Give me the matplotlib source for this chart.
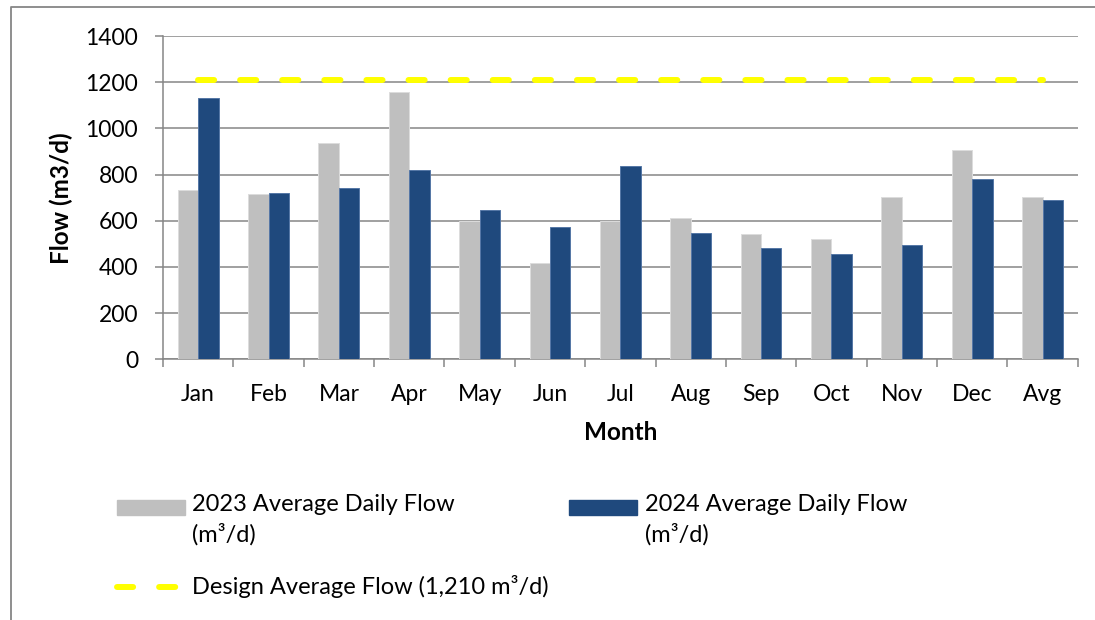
import matplotlib
matplotlib.use('Agg')

import numpy as np
import matplotlib.pyplot as plt
from matplotlib.lines import Line2D
from matplotlib.patches import Rectangle

# ================= DATEN =================
months = ['Jan', 'Feb', 'Mar', 'Apr', 'May', 'Jun', 'Jul',
          'Aug', 'Sep', 'Oct', 'Nov', 'Dec', 'Avg']
flow_2023 = [735, 715, 935, 1160, 600, 417, 599, 610, 543, 520, 703, 907, 703]
flow_2024 = [1131, 722, 742, 820, 645, 575, 837, 548, 480, 454, 497, 783, 688]
design_flow = 1210
y_ticks = [0, 200, 400, 600, 800, 1000, 1200, 1400]

label_2023 = '2023 Average Daily Flow\n(m³/d)'
label_2024 = '2024 Average Daily Flow\n(m³/d)'
label_design = 'Design Average Flow (1,210 m³/d)'

# ================= STIL =================
GRAY = '#BFBFBF'
BLUE = '#1F497D'
YELLOW = '#FFFF00'
AXIS = '#868686'
FONT = 'Lato'
FS_TICK = 16.5
FS_LEG = 17
FS_LAB = 17.5

plt.rcParams['font.family'] = [FONT, 'DejaVu Sans']

W, H = 1095, 620
fig = plt.figure(figsize=(W / 100, H / 100), dpi=100)
ax = fig.add_axes([163 / W, 1 - 359.3 / H, 914.7 / W, 323.2 / H])

x = np.arange(len(months))
bw = 0.29
ax.bar(x - bw / 2, flow_2023, width=bw, color=GRAY, edgecolor='#DCDCDC',
       linewidth=0.7, zorder=3)
ax.bar(x + bw / 2, flow_2024, width=bw, color=BLUE, edgecolor='#5577A6',
       linewidth=0.7, zorder=3)

# Auslegungslinie
dash_style = (0, (2.7, 4.35))
ax.plot([x[0], x[-1]], [design_flow, design_flow], color=YELLOW, lw=4.3,
        linestyle=dash_style, dash_capstyle='round', zorder=4)

# Achsen
ax.set_xlim(-0.5, len(months) - 0.5)
ax.set_ylim(0, 1400)
ax.set_yticks(y_ticks)
ax.set_xticks(x)
ax.set_xticklabels(months)
ax.set_xticks(np.arange(len(months) + 1) - 0.5, minor=True)
ax.tick_params(axis='x', which='major', length=0, pad=18, labelsize=FS_TICK)
ax.tick_params(axis='x', which='minor', length=6, width=1.1, color=AXIS,
               direction='out')
ax.tick_params(axis='y', length=6, width=1.1, color=AXIS, pad=12,
               labelsize=FS_TICK)
ax.grid(axis='y', color=AXIS, linewidth=1.1, zorder=0)
ax.set_axisbelow(True)
for s in ['top', 'right']:
    ax.spines[s].set_visible(False)
for s in ['left', 'bottom']:
    ax.spines[s].set_color(AXIS)
    ax.spines[s].set_linewidth(1.1)

ax.set_ylabel('Flow (m3/d)', fontsize=FS_LAB, fontweight='bold')
ax.yaxis.set_label_coords(-0.098, 0.5)
ax.set_xlabel('Month', fontsize=FS_LAB, fontweight='bold')
ax.xaxis.set_label_coords(0.5, -0.19)


# ================= LEGENDE (manuell) =================
def fx(px):
    return px / W


def fy(py):
    return 1 - py / H


fig.patches.append(Rectangle((fx(117), fy(515)), fx(68), 15 / H,
                             transform=fig.transFigure, color=GRAY))
fig.text(fx(192), fy(494), label_2023, fontsize=FS_LEG, va='top',
         linespacing=1.45)
fig.patches.append(Rectangle((fx(569), fy(515)), fx(68), 15 / H,
                             transform=fig.transFigure, color=BLUE))
fig.text(fx(645), fy(494), label_2024, fontsize=FS_LEG, va='top',
         linespacing=1.45)
fig.lines.append(Line2D([fx(117), fx(183)], [fy(587), fy(587)],
                        transform=fig.transFigure, color=YELLOW, lw=4.3,
                        linestyle=dash_style, dash_capstyle='round'))
fig.text(fx(192), fy(587), label_design, fontsize=FS_LEG, va='center')

# Rahmen oben/links
fig.lines.append(Line2D([fx(11), fx(11), 1.0], [0.0, fy(7), fy(7)],
                        transform=fig.transFigure, color=AXIS, lw=1.3))

fig.savefig('out.png', dpi=100)
